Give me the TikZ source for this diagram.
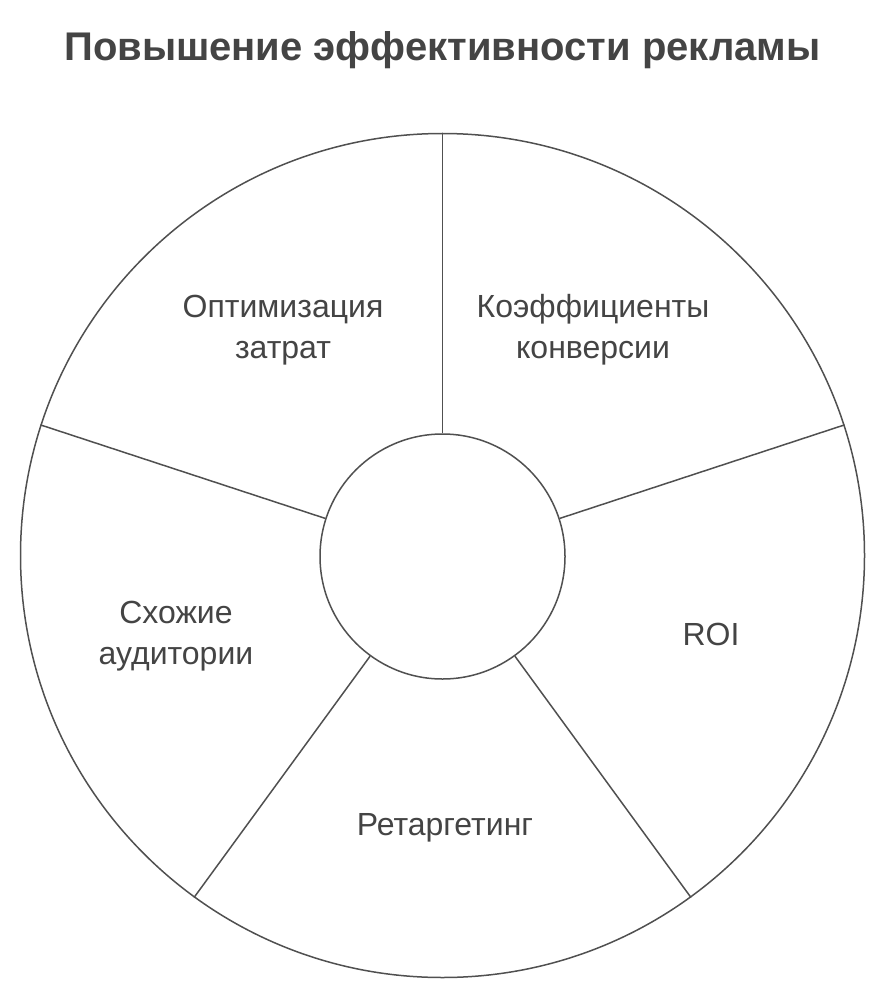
\documentclass[tikz,border=0pt]{standalone}
\usepackage{fontspec}
\setmainfont{Liberation Sans}
\definecolor{linegray}{HTML}{505050}
\definecolor{textgray}{HTML}{444444}
\begin{document}
\begin{tikzpicture}[x=1pt,y=-1pt,
  ring/.style={circle,draw=linegray,line width=1.5pt,inner sep=0pt},
  spoke/.style={draw=linegray,line width=1.5pt},
  lbl/.style={text=textgray,align=center,font=\fontsize{32}{41}\selectfont,inner sep=0pt},
  ttl/.style={text=textgray,font=\fontsize{40}{46}\selectfont\bfseries,inner sep=0pt}]
\useasboundingbox (0,0) rectangle (885,1000);
\node[ring,minimum size=844pt] (outer) at (442.5,555.5) {};
\node[ring,fill=white,minimum size=245pt] (hub) at (442.5,556.5) {};
\foreach \a in {90,18,-54,-126,162}{
  \draw[spoke] (hub.\a) -- (outer.\a);
}
\node[ttl] (title) at (442.5,50) {Повышение эффективности рекламы};
\node[lbl] (l1) at (283,330) {Оптимизация\\затрат};
\node[lbl] (l2) at (593,330) {Коэффициенты\\конверсии};
\node[lbl] (l3) at (711,634) {ROI};
\node[lbl] (l4) at (445,828) {Ретаргетинг};
\node[lbl] (l5) at (176,636) {Схожие\\аудитории};
\end{tikzpicture}
\end{document}
